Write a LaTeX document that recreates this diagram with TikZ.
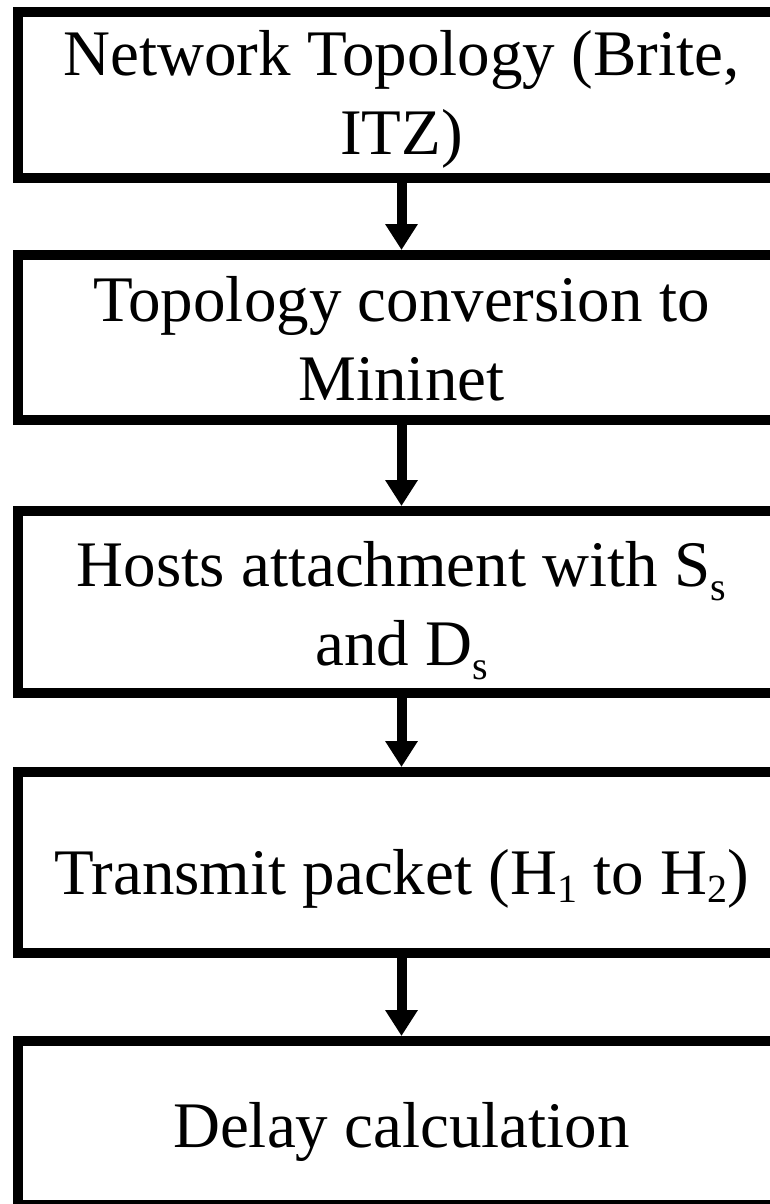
\documentclass[tikz,border=0pt]{standalone}
\usepackage{fontspec}
\setmainfont{Liberation Serif}
\usepackage{xcolor}
\definecolor{cLine}{HTML}{000000}
\usepackage{tikz}
\usetikzlibrary{positioning,arrows.meta}
% subscripts sit low, as in the source figure
\newcommand\subtxt[2][8pt]{\raisebox{-#1}{\fontsize{30pt}{30pt}\selectfont #2}}
\newcommand\topstrut[1]{\rule{0pt}{#1}}
\tikzset{
  flow-box/.style={draw=cLine,line width=7.5pt,rectangle,inner sep=0pt,
    minimum width=575.25pt,align=center,
    font=\fontsize{48.75pt}{59.25pt}\selectfont},
  flow-arrow/.style={-{Triangle[width=23.25pt,length=19.5pt]},
    line width=7.5pt,draw=cLine},
}

\begin{document}
\begin{tikzpicture}[x=0.75pt,y=-0.75pt]
  \useasboundingbox (0,0) rectangle (769,1204);
  \node[flow-box,minimum height=124.5pt]               at (401.5,95) (topo)  {\topstrut{41pt}Network Topology (Brite,\\ITZ)};
  \node[flow-box,minimum height=123.75pt,below=50.25pt of topo]  (conv)  {\topstrut{36pt}Topology conversion to\\Mininet};
  \node[flow-box,minimum height=136.5pt,below=60.75pt of conv]   (hosts) {\topstrut{46.8pt}Hosts attachment with S\subtxt[10pt]{s}\\and D\subtxt[10pt]{s}};
  \node[flow-box,minimum height=135.75pt,below=51.75pt of hosts] (tx)    {\topstrut{59pt}Transmit packet (H\subtxt[6pt]{1} to H\subtxt[6pt]{2})};
  \node[flow-box,minimum height=123pt,below=58.5pt of tx]        (delay) {\topstrut{46.6pt}Delay calculation};
  \draw[flow-arrow] (topo)  -- (conv);
  \draw[flow-arrow] (conv)  -- (hosts);
  \draw[flow-arrow] (hosts) -- (tx);
  \draw[flow-arrow] (tx)    -- (delay);
\end{tikzpicture}
\end{document}
